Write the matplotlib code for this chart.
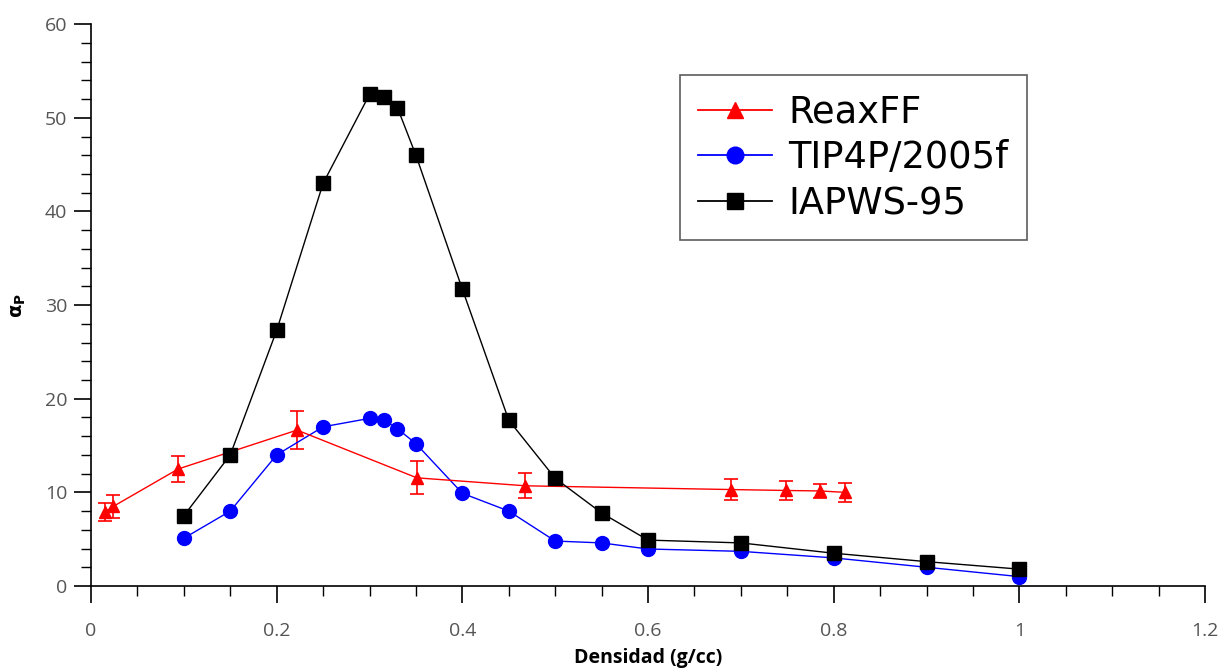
import numpy as np
import matplotlib.pyplot as plt
from matplotlib.ticker import MultipleLocator
from matplotlib.lines import Line2D

plt.rcParams['font.family'] = ['Open Sans', 'DejaVu Sans']

# ReaxFF (with error bars)
reax_x = [0.015, 0.024, 0.094, 0.222, 0.351, 0.468, 0.689, 0.749, 0.785, 0.812]
reax_y = [7.9, 8.5, 12.5, 16.65, 11.55, 10.7, 10.3, 10.2, 10.15, 10.0]
reax_err = [1.0, 1.2, 1.4, 2.05, 1.75, 1.33, 1.1, 1.05, 0.75, 1.05]

# TIP4P/2005f
tip_x = [0.10, 0.15, 0.20, 0.25, 0.30, 0.316, 0.33, 0.35, 0.40, 0.45, 0.50, 0.55, 0.60, 0.70, 0.80, 0.90, 1.00]
tip_y = [5.1, 8.0, 14.0, 17.0, 17.9, 17.7, 16.8, 15.2, 9.9, 8.0, 4.8, 4.6, 3.95, 3.7, 3.0, 2.0, 1.0]

# IAPWS-95
iap_x = [0.10, 0.15, 0.20, 0.25, 0.30, 0.316, 0.33, 0.35, 0.40, 0.45, 0.50, 0.55, 0.60, 0.70, 0.80, 0.90, 1.00]
iap_y = [7.5, 14.0, 27.3, 43.0, 52.5, 52.2, 51.1, 46.0, 31.7, 17.7, 11.5, 7.8, 4.9, 4.6, 3.5, 2.6, 1.8]

fig = plt.figure(figsize=(12.25, 6.72), dpi=100)
ax = fig.add_axes([0.0743, 0.128, 0.9094, 0.836])

ax.errorbar(reax_x, reax_y, yerr=reax_err, color='#ff0000', marker='^', markersize=9,
            linewidth=1.0, elinewidth=1.2, capsize=5, capthick=1.2, zorder=3)
ax.plot(tip_x, tip_y, color='#0000ff', marker='o', markersize=10, linewidth=1.0, zorder=3)
ax.plot(iap_x, iap_y, color='black', marker='s', markersize=10, linewidth=1.0, zorder=4)

ax.set_xlim(0, 1.2)
ax.set_ylim(0, 60)
ax.xaxis.set_major_locator(MultipleLocator(0.2))
ax.xaxis.set_minor_locator(MultipleLocator(0.05))
ax.yaxis.set_major_locator(MultipleLocator(10))
ax.yaxis.set_minor_locator(MultipleLocator(2))
ax.set_xticks([0, 0.2, 0.4, 0.6, 0.8, 1.0, 1.2])
ax.set_xticklabels(['0', '0.2', '0.4', '0.6', '0.8', '1', '1.2'])

for s in ['top', 'right']:
    ax.spines[s].set_visible(False)
for s in ['left', 'bottom']:
    ax.spines[s].set_linewidth(1.2)

ax.tick_params(which='major', direction='out', length=12, width=1.2,
               labelsize=14, labelcolor='#555555')
ax.tick_params(axis='x', which='major', pad=14)
ax.tick_params(axis='y', which='major', pad=5)
ax.tick_params(which='minor', direction='out', length=7, width=1.0)

ax.set_xlabel('Densidad (g/cc)', fontsize=14, fontweight='bold', labelpad=6)
ax.set_ylabel(r'$\mathbf{\alpha_P}$', fontsize=14, labelpad=12)

handles = [
    Line2D([], [], color='#ff0000', marker='^', markersize=12, linewidth=1.3),
    Line2D([], [], color='#0000ff', marker='o', markersize=12, linewidth=1.3),
    Line2D([], [], color='black', marker='s', markersize=12, linewidth=1.3),
]
labels = ['ReaxFF', 'TIP4P/2005f', 'IAPWS-95']
leg = ax.legend(handles, labels, loc='upper left',
                bbox_to_anchor=(680 / 1225, 1 - 75 / 672), bbox_transform=fig.transFigure,
                borderaxespad=0, prop={'family': 'DejaVu Sans', 'size': 26.5},
                frameon=True, fancybox=False, edgecolor='#333333',
                handlelength=2.0, borderpad=0.5, labelspacing=0.24, handletextpad=0.45)
leg.get_frame().set_linewidth(1.2)

fig.savefig('out.png', dpi=100)
